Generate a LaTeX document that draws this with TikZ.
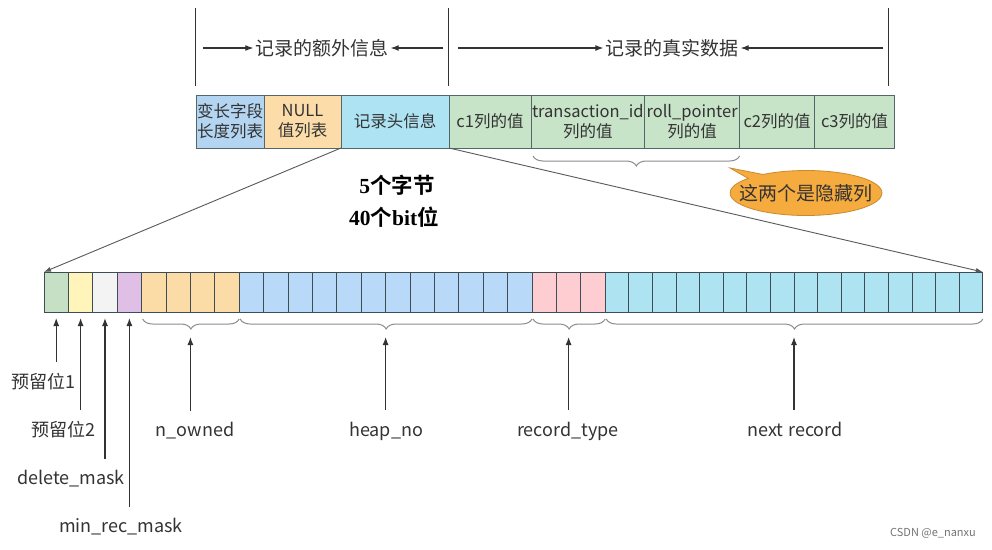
\documentclass[tikz,border=0pt]{standalone}
\usepackage{fontspec}
\setmainfont{Liberation Serif}
\newfontfamily\cjk[BoldFont={Noto Sans CJK SC Bold}]{Noto Sans CJK SC}
\usepackage{tikz}
\usetikzlibrary{positioning}
\usetikzlibrary{arrows.meta,calc,decorations.pathreplacing,shapes.callouts}
\definecolor{boxline}{HTML}{55666B}
\definecolor{bitline}{HTML}{3E4D55}
\definecolor{txtgray}{HTML}{333333}
\definecolor{cvlen}{HTML}{B3D5F2}
\definecolor{cnull}{HTML}{FCDDAA}
\definecolor{chdr}{HTML}{ADE3F3}
\definecolor{ccol}{HTML}{C7E3C8}
\definecolor{bitgreen}{HTML}{C5E0C5}
\definecolor{bityellow}{HTML}{FFF5BA}
\definecolor{bitgray}{HTML}{F3F3F3}
\definecolor{bitpurple}{HTML}{E0BFE7}
\definecolor{bitorange}{HTML}{FCDCA6}
\definecolor{bitblue}{HTML}{B8DAF8}
\definecolor{bitpink}{HTML}{FDCDD1}
\definecolor{bitcyan}{HTML}{AEE4F2}
\definecolor{callfill}{HTML}{F5AB3E}
\definecolor{calldraw}{HTML}{C98A2E}

\begin{document}
\begin{tikzpicture}[x=1pt,y=-1pt]

  \path[fill=white] (0,0) rectangle (992,549);
    \tikzstyle{tbox}=[draw=boxline,line width=0.9pt,minimum height=53,inner xsep=1pt,outer sep=0pt,align=center,text=txtgray,font=\cjk\fontsize{16.5}{20}\selectfont]
    \tikzstyle{bitcell}=[draw=bitline,line width=0.9pt,minimum height=40,inner sep=0pt,outer sep=0pt,anchor=north west]
    \tikzstyle{toplbl}=[inner xsep=2pt,text=txtgray,font=\cjk\fontsize{19}{20}\selectfont]
    \tikzstyle{lbl}=[text=txtgray,font=\cjk\fontsize{18}{20}\selectfont]
    \tikzstyle{boldtxt}=[font=\bfseries\fontsize{21.5}{22}\selectfont]
    \tikzstyle{arr}=[draw=black!80,line width=1.1pt,-{Latex[length=8pt,width=6pt]}]
    \tikzstyle{thinarr}=[draw=black!65,line width=0.9pt,-{Latex[length=7pt,width=5pt]}]
    \tikzstyle{divline}=[draw=black!80,line width=1pt]
    \tikzstyle{brc}=[draw=black!45,line width=1pt,decorate,decoration={brace,mirror,amplitude=10pt}]

  % row of the record
  \node (vlen) at (196,95) [tbox,anchor=north west,fill=cvlen,minimum width=67] {变长字段\\长度列表};
  \node (null) [tbox,right=0pt of vlen,fill=cnull,minimum width=77] {NULL\\值列表};
  \node (hdr) [tbox,right=0pt of null,fill=chdr,minimum width=108] {记录头信息};
  \node (c1) [tbox,right=0pt of hdr,fill=ccol,minimum width=82] {c1列的值};
  \node (trx) [tbox,right=0pt of c1,fill=ccol,minimum width=113] {transaction\_id\\列的值};
  \node (roll) [tbox,right=0pt of trx,fill=ccol,minimum width=95] {roll\_pointer\\列的值};
  \node (c2) [tbox,right=0pt of roll,fill=ccol,minimum width=75] {c2列的值};
  \node (c3) [tbox,right=0pt of c2,fill=ccol,minimum width=80] {c3列的值};

  % the two parts
  \coordinate (d1) at (195,8);
  \coordinate (d2) at (448,8);
  \coordinate (d3) at (888,8);
  \draw[divline] (d1) -- ++(0,78);
  \draw[divline] (d2) -- ++(0,78);
  \draw[divline] (d3) -- ++(0,78);
  \node (extra) at (322,48) [toplbl] {记录的额外信息};
  \node (real) at (672,48) [toplbl] {记录的真实数据};
  \path ($(d1)+(8,40)$) edge [arr] (extra);
  \path ($(d2)+(-5,40)$) edge [arr] (extra);
  \path ($(d2)+(10,40)$) edge [arr] (real);
  \path ($(d3)+(-5,40)$) edge [arr] (real);

  % hidden columns
  \draw[brc] ($(trx.south west)+(2,8)$) -- ($(roll.south east)+(0,8)$);
  \node (hidden) at (806,193) [ellipse callout,callout absolute pointer={(730,168)},draw=calldraw,fill=callfill,line width=0.8pt,minimum width=152,minimum height=45,inner xsep=-24pt,inner ysep=0pt,text=txtgray,font=\cjk\fontsize{19}{20}\selectfont] {这两个是隐藏列};

  % 40 bits of the header
  \foreach \first/\last/\col in {0/0/bitgreen,1/1/bityellow,2/2/bitgray,3/3/bitpurple,4/7/bitorange,8/19/bitblue,20/22/bitpink,23/38/bitcyan}
    \foreach \i in {\first,...,\last} {
      \pgfmathsetmacro\bx{\i<23 ? 44+\i*24.4 : 605.2+(\i-23)*23.6}
      \pgfmathsetmacro\bw{\i<23 ? 24.4 : 23.6}
      \node (b\i) at (\bx,272) [bitcell,fill=\col,minimum width=\bw] {};
    }

  \path (hdr.south west) edge [thinarr] (b0.north west);
  \path (hdr.south east) edge [thinarr] (b38.north east);
  \node (bytes) at (397,185) [boldtxt] {5{\cjk\bfseries 个字节}};
  \node (bits) at (394,217) [boldtxt] {40{\cjk\bfseries 个}bit{\cjk\bfseries 位}};

  % fields
  \draw[brc] ($(b4.south west)+(1,7)$) -- ($(b7.south east)+(0,7)$);
  \draw[brc] ($(b8.south west)+(1,7)$) -- ($(b19.south east)+(0,7)$);
  \draw[brc] ($(b20.south west)+(1,7)$) -- ($(b22.south east)+(0,7)$);
  \draw[brc] ($(b23.south west)+(1,7)$) -- ($(b38.south east)+(0,7)$);
  \coordinate (t1) at ($(b4.south west)!.5!(b7.south east)+(0,25)$);
  \coordinate (t2) at ($(b8.south west)!.5!(b19.south east)+(0,25)$);
  \coordinate (t3) at ($(b20.south west)!.5!(b22.south east)+(0,25)$);
  \coordinate (t4) at ($(b23.south west)!.5!(b38.south east)+(0,25)$);

  \node (nown) at (195,431) [lbl] {n\_owned};
  \node (heap) at (386,431) [lbl] {heap\_no};
  \node (rtype) at (568,431) [lbl] {record\_type};
  \node (nrec) at (795,429) [lbl] {next\hspace{5pt}record};
  \path ($(t1 |- nown.north)+(0,-8)$) edge [arr] (t1);
  \path ($(t2 |- heap.north)+(0,-8)$) edge [arr] (t2);
  \path ($(t3 |- rtype.north)+(0,-8)$) edge [arr] (t3);
  \path ($(t4 |- nrec.north)+(0,-8)$) edge [arr] (t4);

  \node (r1) at (43,382) [lbl] {预留位1};
  \node (r2) at (63,430) [lbl] {预留位2};
  \node (dmask) at (71,479) [lbl] {delete\_mask};
  \node (mmask) at (121,527) [lbl] {min\_rec\_mask};
  \path ($(b0.south |- r1.north)+(0,-8)$) edge [arr] ($(b0.south)+(0,6)$);
  \path ($(b1.south |- r2.north)+(0,-8)$) edge [arr] ($(b1.south)+(0,6)$);
  \path ($(b2.south |- dmask.north)+(0,-8)$) edge [arr] ($(b2.south)+(0,6)$);
  \path ($(b3.south |- mmask.north)+(0,-8)$) edge [arr] ($(b3.south)+(0,6)$);

  \node (mark) at (933,533) [text=black!55,font=\cjk\fontsize{11}{12}\selectfont] {CSDN @e\_nanxu};
    \end{tikzpicture}
\end{document}
